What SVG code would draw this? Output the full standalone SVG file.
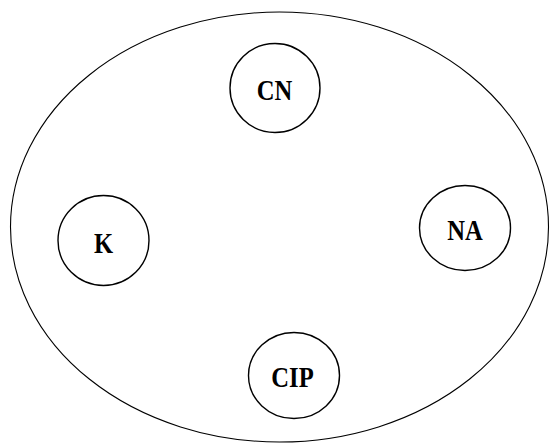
<svg xmlns="http://www.w3.org/2000/svg" width="550" height="445" viewBox="0 0 550 445">
<style>
.shape{fill:none;stroke:#000;stroke-width:1.4}
.outer{fill:none;stroke:#000;stroke-width:1.1}
.lbl{font-family:"Liberation Serif","Times New Roman",serif;font-weight:bold;font-size:30px;text-anchor:middle;fill:#000}
</style>
<rect width="550" height="445" fill="#fff"/>
<g id="outer"><ellipse class="outer" cx="279.5" cy="227" rx="269" ry="215"/></g>
<g id="connectors"></g>
<g id="CN"><ellipse class="shape" cx="275" cy="88" rx="45" ry="44.5"/><text class="lbl" transform="translate(274.5,100) scale(0.82,1)">CN</text></g>
<g id="K"><ellipse class="shape" cx="103.5" cy="240.5" rx="45.5" ry="45"/><text class="lbl" transform="translate(103.5,252.5) scale(0.82,1)">K</text></g>
<g id="NA"><ellipse class="shape" cx="465" cy="228" rx="45.5" ry="42.5"/><text class="lbl" transform="translate(465,239.5) scale(0.82,1)">NA</text></g>
<g id="CIP"><ellipse class="shape" cx="294" cy="375.5" rx="45.5" ry="43"/><text class="lbl" transform="translate(292.5,387) scale(0.82,1)">CIP</text></g>
</svg>
